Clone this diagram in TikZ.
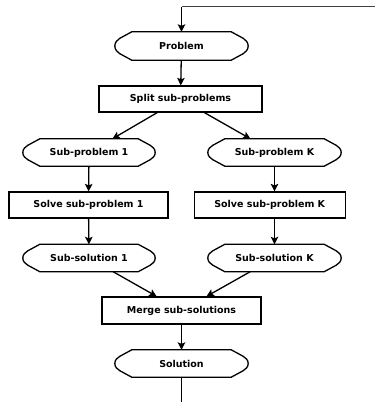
\documentclass[tikz,border=0pt]{standalone}
\usepackage{fontspec}
\setmainfont{DejaVu Sans}
\usetikzlibrary{arrows.meta,calc}
\begin{document}
\begin{tikzpicture}[x=1pt,y=-1pt,
  lbl/.style={inner sep=0pt,font=\fontsize{9.5}{11}\selectfont\bfseries},
  procbox/.style={lbl,draw,line width=1.2pt,rectangle},
  termbox/.style={lbl,rectangle},
  termline/.style={line width=1.3pt,line join=round},
  arr/.style={line width=1.3pt,-{Stealth[length=7.5pt,width=7.5pt,inset=1.5pt]}},
  plain/.style={line width=1.3pt}]
\useasboundingbox (0,0) rectangle (375,402);
\node[termbox,minimum width=133pt,minimum height=28pt] (prob) at (181.5,46) {Problem};
\node[procbox,minimum width=163pt,minimum height=26pt] (split) at (180.5,99) {Split sub-problems};
\node[termbox,minimum width=132pt,minimum height=27pt] (sp1) at (89,152.5) {Sub-problem 1};
\node[termbox,minimum width=133pt,minimum height=27pt] (spK) at (274.5,152.5) {Sub-problem K};
\node[procbox,minimum width=159pt,minimum height=26pt] (solve1) at (88.5,205) {Solve sub-problem 1};
\node[procbox,minimum width=151pt,minimum height=26pt] (solveK) at (269.7,205) {Solve sub-problem K};
\node[termbox,minimum width=132pt,minimum height=27pt] (ss1) at (89,258) {Sub-solution 1};
\node[termbox,minimum width=133pt,minimum height=27pt] (ssK) at (274.5,258) {Sub-solution K};
\node[procbox,minimum width=159pt,minimum height=27pt] (merge) at (181.5,310.5) {Merge sub-solutions};
\node[termbox,minimum width=133pt,minimum height=27pt] (sol) at (181.5,363.5) {Solution};
\foreach \n in {prob,sp1,spK,ss1,ssK,sol} {
  \draw[termline] ([xshift=17pt]\n.north west) -- ([xshift=-17pt]\n.north east)
    -- ([xshift=-5pt,yshift=-6.5pt]\n.north east)
    .. controls ([xshift=-2.5pt,yshift=-8pt]\n.north east) and ([yshift=3.5pt]\n.east) .. (\n.east)
    .. controls ([yshift=-3.5pt]\n.east) and ([xshift=-2.5pt,yshift=8pt]\n.south east) .. ([xshift=-5pt,yshift=6.5pt]\n.south east)
    -- ([xshift=-17pt]\n.south east) -- ([xshift=17pt]\n.south west)
    -- ([xshift=5pt,yshift=6.5pt]\n.south west)
    .. controls ([xshift=2.5pt,yshift=8pt]\n.south west) and ([yshift=-3.5pt]\n.west) .. (\n.west)
    .. controls ([yshift=3.5pt]\n.west) and ([xshift=2.5pt,yshift=-8pt]\n.north west) .. ([xshift=5pt,yshift=-6.5pt]\n.north west)
    -- cycle;
}
\coordinate (topR) at (375,6.5);
\coordinate (corner) at (181.5,6.5);
\coordinate (bottomEnd) at (181.5,402);
\draw[line width=1.6pt,black!75] (topR) -- (corner);
\draw[arr] (corner) -- (prob);
\draw[arr] (prob) -- (split);
\draw[arr] (split) -- (sp1);
\draw[arr] (split) -- (spK);
\draw[arr] (sp1) -- (solve1);
\draw[arr] (spK.south) -- (spK.south |- solveK.north);
\draw[arr] (solve1) -- (ss1);
\draw[arr] (solveK.south -| ssK.north) -- (ssK.north);
\draw[arr] (ss1) -- (merge);
\draw[arr] (ssK) -- (merge);
\draw[arr] (merge) -- (sol);
\draw[plain] (sol) -- (bottomEnd);
\end{tikzpicture}
\end{document}
